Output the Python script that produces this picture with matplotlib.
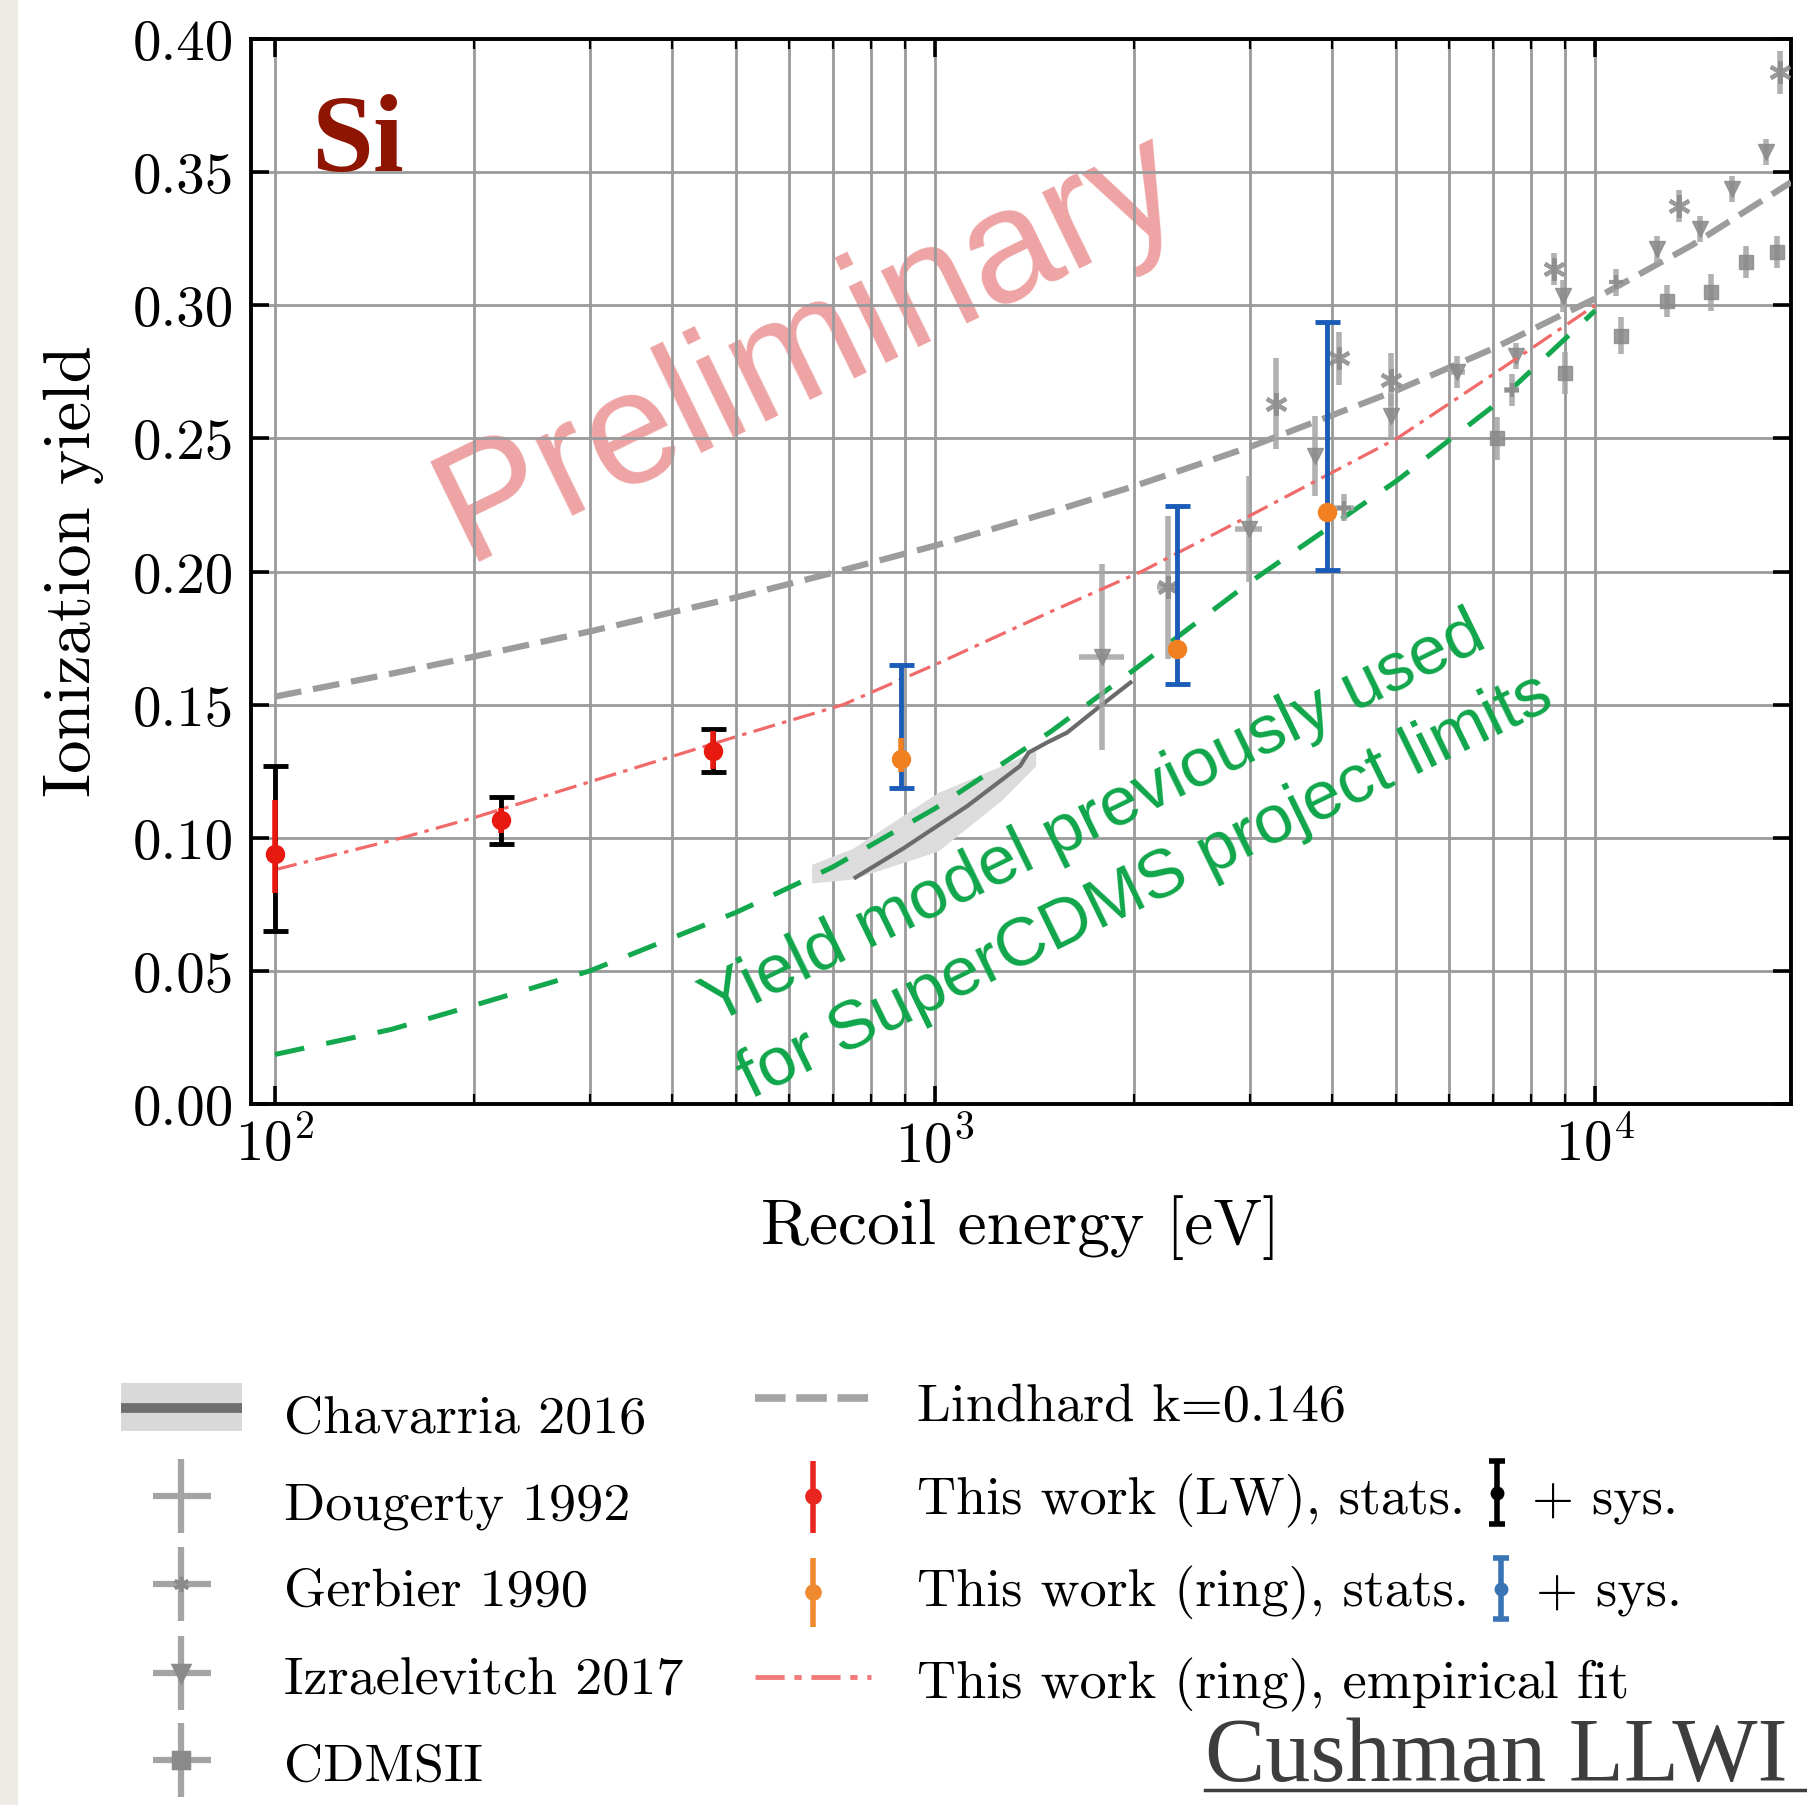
import matplotlib
matplotlib.use('Agg')
import matplotlib.pyplot as plt
import matplotlib.ticker as ticker
from matplotlib.lines import Line2D
from matplotlib.patches import Rectangle

plt.rcParams['font.family'] = 'cmr10'
plt.rcParams['mathtext.fontset'] = 'cm'
plt.rcParams['axes.formatter.use_mathtext'] = True

W, H = 1808, 1806

# Lindhard k=0.146
lind_E = [100, 150, 200, 300, 500, 700, 1000, 1500, 2000, 3000, 5000, 7000, 10000, 14000, 19800]
lind_Y = [0.153, 0.1616, 0.168, 0.1775, 0.1903, 0.1995, 0.2097, 0.2224, 0.232, 0.2468, 0.268, 0.2837, 0.3025, 0.3225, 0.3462]

# yield model previously used for SuperCDMS limits
old_E = [100, 150, 200, 300, 500, 700, 1000, 1500, 2000, 3000, 5000, 7000, 10000]
old_Y = [0.0186, 0.028, 0.037, 0.050, 0.072, 0.089, 0.111, 0.140, 0.163, 0.196, 0.234, 0.262, 0.298]

# empirical fit (ring)
fit_E = [100, 156, 200, 300, 500, 726, 1000, 1500, 2055, 3000, 5010, 7000, 10000]
fit_Y = [0.088, 0.100, 0.1075, 0.121, 0.138, 0.150, 0.165, 0.185, 0.200, 0.221, 0.250, 0.274, 0.300]

# Chavarria 2016
chav_E = [758, 898, 1119, 1346, 1386, 1479, 1585, 1780, 1977]
chav_Y = [0.0851, 0.0962, 0.1119, 0.1270, 0.1320, 0.1358, 0.1395, 0.1495, 0.1583]
chav_band_E = [650, 750, 1010, 1260, 1420]
chav_band_lo = [0.083, 0.0845, 0.095, 0.114, 0.127]
chav_band_hi = [0.090, 0.096, 0.117, 0.127, 0.133]

# older measurements
doug_E = [4160, 7480, 10760]
doug_Y = [0.224, 0.268, 0.3086]
doug_yerr = [0.005, 0.006, 0.005]
doug_xerr = [150, 200, 0]

gerb_E = [2250, 3280, 4090, 4900, 8650, 13390, 19050]
gerb_Y = [0.194, 0.263, 0.280, 0.272, 0.3135, 0.3374, 0.3875]
gerb_yerr = [0.027, 0.017, 0.010, 0.010, 0.006, 0.006, 0.008]
gerb_xerr = [80, 0, 0, 0, 0, 0, 0]

izra_E = [1790, 2990, 3770, 4900, 6170, 7600, 8950, 12420, 14440, 16130, 18120]
izra_Y = [0.168, 0.216, 0.2435, 0.2585, 0.275, 0.281, 0.3035, 0.321, 0.3287, 0.3437, 0.3575]
izra_yerr = [0.035, 0.020, 0.015, 0.008, 0.006, 0.005, 0.006, 0.005, 0.005, 0.005, 0.005]
izra_xerr = [140, 140, 0, 0, 180, 0, 0, 0, 0, 0, 0]

cdms_E = [7100, 9000, 10940, 12850, 14960, 16910, 18850]
cdms_Y = [0.250, 0.2745, 0.2886, 0.3017, 0.3048, 0.3161, 0.3199]
cdms_yerr = [0.008, 0.008, 0.007, 0.006, 0.007, 0.006, 0.006]

# this work, LW
lw_E = [100, 220, 461]
lw_Y = [0.094, 0.1066, 0.1326]
lw_stat_lo = [0.0146, 0.005, 0.0066]
lw_stat_hi = [0.0203, 0.0044, 0.0074]
lw_sys_lo = [0.029, 0.0089, 0.0078]
lw_sys_hi = [0.033, 0.0088, 0.0082]

# this work, ring
ring_E = [887, 2329, 3920]
ring_Y = [0.1296, 0.1708, 0.2224]
ring_stat_lo = [0.005, 0.003, 0.003]
ring_stat_hi = [0.0077, 0.003, 0.003]
ring_sys_lo = [0.011, 0.0131, 0.0218]
ring_sys_hi = [0.0352, 0.0539, 0.0714]

ylabels_fmt = '%.2f'

fig = plt.figure(figsize=(W / 100, H / 100), dpi=100)
fig.patch.set_facecolor('white')
fig.add_artist(Rectangle((0, 0), 18 / W, 1, transform=fig.transFigure,
                         color='#eeebe4', lw=0, zorder=0))

ax = fig.add_axes([251 / W, 1 - 1105 / H, 1540 / W, 1065 / H])
ax.set_xscale('log')
ax.set_xlim(92, 19800)
ax.set_ylim(0, 0.40)
ax.set_axisbelow(True)
ax.yaxis.set_major_locator(ticker.MultipleLocator(0.05))
ax.yaxis.set_major_formatter(ticker.FormatStrFormatter(ylabels_fmt))
ax.grid(True, which='both', axis='x', color='#9a9a9a', lw=2.0)
ax.grid(True, which='major', axis='y', color='#9a9a9a', lw=2.0)
for s in ax.spines.values():
    s.set_linewidth(2.8)
ax.tick_params(which='both', direction='in', top=True, right=True, labelsize=41)
ax.tick_params(which='major', length=13, width=2.6)
ax.tick_params(which='minor', length=7, width=1.6)
ax.tick_params(axis='x', pad=9)
ax.tick_params(axis='y', pad=12)

ax.set_xlabel('Recoil energy [eV]', fontsize=47)
ax.xaxis.set_label_coords(0.5, -0.085)
ax.set_ylabel('Ionization yield', fontsize=48)
ax.yaxis.set_label_coords(-0.0955, 0.501)

# watermark behind the grid
ax.text(828 / W, 1 - 385 / H, 'Preliminary', transform=fig.transFigure,
        rotation=26, rotation_mode='anchor', ha='center', va='baseline',
        fontsize=116, family='Liberation Sans', color='#dc3c3c', alpha=0.47, zorder=0.3)

# curves
ax.fill_between(chav_band_E, chav_band_lo, chav_band_hi, color='#dcdcdc', lw=0, zorder=2)
ax.plot(chav_E, chav_Y, color='#6b6b6b', lw=3, zorder=3)
ax.plot(lind_E, lind_Y, color='#9c9c9c', lw=4.5, dashes=(4.3, 1.9), zorder=3)
ax.plot(old_E, old_Y, color='#14a84e', lw=3.6, dashes=(6, 4.5), zorder=3)
ax.plot(fit_E, fit_Y, color='#f06a6a', lw=2.3, dashes=(7, 2.3, 1.4, 2.3), zorder=4)

# older data sets
gray_kw = dict(color='#8a8a8a', ecolor='#a4a4a4', elinewidth=4, capsize=0,
               alpha=0.85, zorder=3)
ax.errorbar(doug_E, doug_Y, yerr=doug_yerr, xerr=doug_xerr, fmt='+', ms=10, mew=3, **gray_kw)
ax.errorbar(gerb_E, gerb_Y, yerr=gerb_yerr, xerr=gerb_xerr, fmt='none', **gray_kw)
ax.plot(gerb_E, gerb_Y, ls='none', marker=(6, 2, 0), ms=16, mew=3, color='#8a8a8a', alpha=0.85, zorder=3)
ax.errorbar(izra_E, izra_Y, yerr=izra_yerr, xerr=izra_xerr, fmt='v', ms=12, **gray_kw)
ax.errorbar(cdms_E, cdms_Y, yerr=cdms_yerr, fmt='s', ms=10, **gray_kw)

# this work
ax.errorbar(lw_E, lw_Y, yerr=[lw_sys_lo, lw_sys_hi], fmt='none', ecolor='black',
            elinewidth=3.5, capsize=9, capthick=3.5, zorder=5)
ax.errorbar(lw_E, lw_Y, yerr=[lw_stat_lo, lw_stat_hi], fmt='o', color='#e8190f',
            ms=13, elinewidth=4, capsize=0, zorder=6)
ax.errorbar(ring_E, ring_Y, yerr=[ring_sys_lo, ring_sys_hi], fmt='none', ecolor='#1a5cb8',
            elinewidth=3.5, capsize=9, capthick=3.5, zorder=5)
ax.errorbar(ring_E, ring_Y, yerr=[ring_stat_lo, ring_stat_hi], fmt='o', color='#f08020',
            ms=13, elinewidth=4, capsize=0, zorder=6)

# annotations
fig.text(311 / W, 1 - 171 / H, 'Si', fontsize=80, fontweight='bold',
         family='Liberation Serif', color='#8f1503', ha='left', va='baseline')
green = '#10a64a'
ax.text(713.8 / W, 1 - 1024 / H, 'Yield model previously used', transform=fig.transFigure,
        rotation=26, rotation_mode='anchor', ha='left', va='baseline',
        fontsize=50, family='Liberation Sans', color=green, zorder=7)
ax.text(750.4 / W, 1 - 1099 / H, 'for SuperCDMS project limits', transform=fig.transFigure,
        rotation=26, rotation_mode='anchor', ha='left', va='baseline',
        fontsize=50, family='Liberation Sans', color=green, zorder=7)


# legend, drawn by hand in pixel positions
def fx(px):
    return px / W


def fy(py):
    return 1 - py / H


def seg(x0, y0, x1, y1, **kw):
    fig.add_artist(Line2D([fx(x0), fx(x1)], [fy(y0), fy(y1)], transform=fig.transFigure, **kw))


def dot(x, y, **kw):
    fig.add_artist(Line2D([fx(x)], [fy(y)], transform=fig.transFigure, ls='none', **kw))


leg_fs = 39
col1 = ['Chavarria 2016', 'Dougerty 1992', 'Gerbier 1990', 'Izraelevitch 2017', 'CDMSII']
col1_base = [1433, 1519, 1606, 1695, 1781]
for lab, yb in zip(col1, col1_base):
    fig.text(fx(284), fy(yb), lab, fontsize=leg_fs, va='baseline', ha='left')

fig.add_artist(Rectangle((fx(121), fy(1432)), (242 - 121) / W, 48 / H,
                         transform=fig.transFigure, color='#d9d9d9', lw=0))
seg(121, 1409, 242, 1409, color='#6f6f6f', lw=7, solid_capstyle='butt')
cross_y = [1497, 1585, 1674, 1761]
cross_m = [None, (6, 2, 0), 'v', 's']
for yc, m in zip(cross_y, cross_m):
    seg(181, yc - 37, 181, yc + 37, color='#a4a4a4', lw=4.5, solid_capstyle='butt')
    seg(153, yc, 211, yc, color='#a4a4a4', lw=4.5, solid_capstyle='butt')
    if m is not None:
        dot(181, yc, marker=m, ms=11, mew=2.5, color='#8a8a8a')

col2 = ['Lindhard k=0.146', 'This work (LW), stats.', 'This work (ring), stats.',
        'This work (ring), empirical fit']
col2_base = [1421, 1514, 1606, 1698]
col2_txt = []
for lab, yb in zip(col2, col2_base):
    col2_txt.append(fig.text(fx(917), fy(yb), lab, fontsize=leg_fs, va='baseline', ha='left'))

seg(755, 1399, 871, 1399, color='#a4a4a4', lw=5.5, dashes=(4, 1.4))
seg(813, 1462, 813, 1534, color='#e8251f', lw=4, solid_capstyle='butt')
dot(813, 1497, marker='o', ms=11, color='#e8251f')
seg(813, 1559, 813, 1628, color='#f08a30', lw=4, solid_capstyle='butt')
dot(813, 1593, marker='o', ms=11, color='#f08a30')
seg(755, 1678, 871, 1678, color='#f07a7a', lw=3.5, dashes=(6, 2, 1.5, 2))

fig.canvas.draw()
rend = fig.canvas.get_renderer()
for t, (y0, y1), c in [(col2_txt[1], (1462, 1525), 'black'), (col2_txt[2], (1559, 1620), '#3a74b4')]:
    bb = t.get_window_extent(renderer=rend)
    xi = bb.x1 + 32
    yc = (y0 + y1) / 2
    seg(xi, y0, xi, y1, color=c, lw=4, solid_capstyle='butt')
    seg(xi - 8, y0, xi + 8, y0, color=c, lw=4, solid_capstyle='butt')
    seg(xi - 8, y1, xi + 8, y1, color=c, lw=4, solid_capstyle='butt')
    dot(xi, yc, marker='o', ms=9, color=c)
    yb = col2_base[col2_txt.index(t)]
    fig.text(fx(xi + 35), fy(yb), '+ sys.', fontsize=leg_fs, va='baseline', ha='left')

# footer
fig.text(fx(1205), fy(1781), 'Cushman LLWI', fontsize=65, family='Liberation Serif',
         color='#3d3d3d', ha='left', va='baseline')
seg(1205, 1791, 1808, 1791, color='#3d3d3d', lw=2.5)

fig.savefig('out.png', dpi=100, facecolor='white')
